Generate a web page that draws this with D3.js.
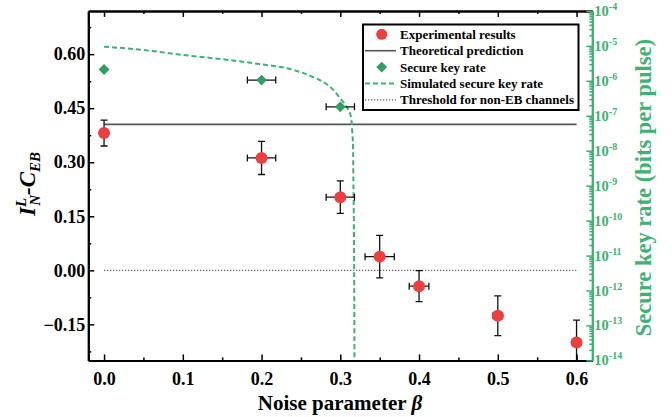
<!DOCTYPE html>
<html>
<head>
<meta charset="utf-8">
<script src="https://cdn.jsdelivr.net/npm/d3@7"></script>
<style>
  body { margin: 0; background: #fff; }
  svg text { font-family: "Liberation Serif", "Times New Roman", serif; font-weight: bold; }
</style>
</head>
<body>
<svg id="chart" width="672" height="417"></svg>
<script>
// experimental results (red circles)
const expBeta = [0, 0.2, 0.3, 0.35, 0.4, 0.5, 0.6];
const expValue = [0.381, 0.312, 0.203, 0.038, -0.044, -0.126, -0.200];
const expYErr = [0.036, 0.046, 0.045, 0.059, 0.043, 0.055, 0.062];
const expXErr = [0, 0.018, 0.018, 0.0186, 0.0125, 0.006, 0.005];

// measured secure key rate (green diamonds)
const keyBeta = [0, 0.2, 0.3];
const keyRate = [2.1e-6, 1.05e-6, 1.8e-7];
const keyXErr = [0, 0.018, 0.018];

// simulated secure key rate (dashed green)
const simBeta = [0, 0.05, 0.1, 0.16, 0.208, 0.224, 0.265, 0.274, 0.291, 0.2997, 0.308, 0.3124, 0.3145, 0.3153, 0.3162, 0.3166, 0.3175, 0.318];
const simRate = [9.5e-6, 7.6e-6, 5.5e-6, 3.9e-6, 2.8e-6, 2.5e-6, 1.3e-6, 1.05e-6, 5.5e-7, 3.2e-7, 1.8e-7, 1.17e-7, 6.1e-8, 3.1e-8, 1.3e-8, 1.45e-9, 1.4e-11, 1e-14];

const theoryValue = 0.405;
const thresholdValue = 0;
const lineBeta = [0, 0.6];

const xTicks = [0, 0.1, 0.2, 0.3, 0.4, 0.5, 0.6];
const yTicks = [-0.15, 0, 0.15, 0.30, 0.45, 0.60];
const rightExp = [-14, -13, -12, -11, -10, -9, -8, -7, -6, -5, -4];

const legendItems = ["Experimental results", "Theoretical prediction", "Secure key rate",
                     "Simulated secure key rate", "Threshold for non-EB channels"];

const RED = "#ef3e3e";
const GREEN = "#3cb371";
const DGREEN = "#2f9e60";

const pLeft = 88.3, pRight = 592.3, pTop = 10.9, pBottom = 360.4;

const svg = d3.select("#chart");

const x = d3.scaleLinear().domain([-0.02, 0.62]).range([pLeft, pRight]);
const y = d3.scaleLinear().domain([-0.25, 0.72]).range([pBottom, pTop]);
const yR = d3.scaleLog().domain([1e-14, 1e-4]).range([pBottom, pTop]);

svg.append("clipPath").attr("id", "plotclip")
  .append("rect").attr("x", pLeft).attr("y", pTop).attr("width", pRight - pLeft).attr("height", pBottom - pTop);

const plot = svg.append("g").attr("clip-path", "url(#plotclip)");

// threshold and theory lines
plot.append("line")
  .attr("x1", x(lineBeta[0])).attr("x2", x(lineBeta[1]))
  .attr("y1", y(thresholdValue)).attr("y2", y(thresholdValue))
  .attr("stroke", "#333").attr("stroke-width", 1).attr("stroke-dasharray", "1.2,1.8");

plot.append("line")
  .attr("x1", x(lineBeta[0])).attr("x2", x(lineBeta[1]))
  .attr("y1", y(theoryValue)).attr("y2", y(theoryValue))
  .attr("stroke", "#555").attr("stroke-width", 1.6);

// simulated key rate
const simLine = d3.line()
  .x(d => x(d[0])).y(d => yR(d[1]))
  .curve(d3.curveMonotoneX);
plot.append("path")
  .datum(simBeta.map((b, i) => [b, simRate[i]]))
  .attr("d", simLine)
  .attr("fill", "none").attr("stroke", GREEN).attr("stroke-width", 2)
  .attr("stroke-dasharray", "5,3");

// error bars helper
function errBars(g, cx, cy, x0, x1, y0, y1) {
  const cap = 3.5;
  if (y0 !== y1) {
    g.append("line").attr("x1", cx).attr("x2", cx).attr("y1", y0).attr("y2", y1);
    g.append("line").attr("x1", cx - cap).attr("x2", cx + cap).attr("y1", y0).attr("y2", y0);
    g.append("line").attr("x1", cx - cap).attr("x2", cx + cap).attr("y1", y1).attr("y2", y1);
  }
  if (x0 !== x1) {
    g.append("line").attr("x1", x0).attr("x2", x1).attr("y1", cy).attr("y2", cy);
    g.append("line").attr("x1", x0).attr("x2", x0).attr("y1", cy - cap).attr("y2", cy + cap);
    g.append("line").attr("x1", x1).attr("x2", x1).attr("y1", cy - cap).attr("y2", cy + cap);
  }
}

const eb = plot.append("g").attr("stroke", "#111").attr("stroke-width", 1.3);
expBeta.forEach((b, i) => {
  errBars(eb, x(b), y(expValue[i]),
    x(b - expXErr[i]), x(b + expXErr[i]),
    y(expValue[i] + expYErr[i]), y(expValue[i] - expYErr[i]));
});
keyBeta.forEach((b, i) => {
  errBars(eb, x(b), yR(keyRate[i]), x(b - keyXErr[i]), x(b + keyXErr[i]), 0, 0);
});

const diamond = d3.symbol().type(d3.symbolDiamond2).size(75);

plot.selectAll("circle.exp")
  .data(expBeta.map((b, i) => [b, expValue[i]]))
  .enter().append("circle")
  .attr("cx", d => x(d[0])).attr("cy", d => y(d[1]))
  .attr("r", 6).attr("fill", RED);

plot.selectAll("path.key")
  .data(keyBeta.map((b, i) => [b, keyRate[i]]))
  .enter().append("path")
  .attr("d", diamond)
  .attr("transform", d => `translate(${x(d[0])},${yR(d[1])})`)
  .attr("fill", DGREEN);

// axes
const fmt = d3.format(".2f");
const minorX = d3.range(0, 13).map(i => i * 0.05).filter(v => Math.round(v * 100) % 10 !== 0);
const minorY = yTicks.map(v => v + 0.075).concat([-0.225]);

svg.append("g").attr("transform", `translate(0,${pBottom})`)
  .call(d3.axisBottom(x).tickValues(xTicks).tickFormat(d3.format(".1f")).tickSize(-6).tickSizeOuter(0).tickPadding(12));
svg.append("g").attr("transform", `translate(0,${pBottom})`)
  .call(d3.axisBottom(x).tickValues(minorX).tickFormat("").tickSize(-3).tickSizeOuter(0));
svg.append("g").attr("transform", `translate(0,${pTop})`)
  .call(d3.axisTop(x).tickValues(xTicks).tickFormat("").tickSize(-6).tickSizeOuter(0));
svg.append("g").attr("transform", `translate(0,${pTop})`)
  .call(d3.axisTop(x).tickValues(minorX).tickFormat("").tickSize(-3).tickSizeOuter(0));
svg.append("g").attr("transform", `translate(${pLeft},0)`)
  .call(d3.axisLeft(y).tickValues(yTicks).tickFormat(fmt).tickSize(-6).tickSizeOuter(0).tickPadding(3));
svg.append("g").attr("transform", `translate(${pLeft},0)`)
  .call(d3.axisLeft(y).tickValues(minorY).tickFormat("").tickSize(-3).tickSizeOuter(0));

svg.selectAll(".domain").attr("stroke", "#000").attr("stroke-width", 2);
svg.selectAll(".tick line").attr("stroke", "#000").attr("stroke-width", 1.5);
svg.selectAll(".tick text").attr("font-size", 18).attr("fill", "#000")
  .style("font-family", "'Liberation Serif', serif").style("font-weight", "bold");

// right log axis
const majorR = rightExp.map(e => Math.pow(10, e));
const minorR = [];
rightExp.slice(0, -1).forEach(e => { for (let k = 2; k <= 9; k++) minorR.push(k * Math.pow(10, e)); });
const gR = svg.append("g").attr("transform", `translate(${pRight},0)`);
gR.call(d3.axisRight(yR).tickValues(majorR).tickFormat("").tickSize(-6).tickSizeOuter(0));
gR.append("g").call(d3.axisRight(yR).tickValues(minorR).tickFormat("").tickSize(-3).tickSizeOuter(0));
gR.selectAll(".domain").attr("stroke", GREEN).attr("stroke-width", 2);
gR.selectAll(".tick line").attr("stroke", GREEN).attr("stroke-width", 1.5);

const rl = gR.selectAll("text.rl").data(rightExp).enter().append("text")
  .attr("x", 2).attr("y", d => yR(Math.pow(10, d)) + 5)
  .attr("fill", GREEN).attr("font-size", 14.5);
rl.append("tspan").text("10");
rl.append("tspan").attr("dy", -6).attr("font-size", 10).text(d => "-" + Math.abs(d));

// axis titles
const xt = svg.append("text").attr("x", 340).attr("y", 410)
  .attr("text-anchor", "middle").attr("font-size", 21).attr("fill", "#000");
xt.append("tspan").text("Noise parameter ");
xt.append("tspan").attr("font-style", "italic").text("\u03b2");

svg.append("text")
  .attr("transform", `translate(651,${(pTop + pBottom) / 2 + 2}) rotate(-90)`)
  .attr("text-anchor", "middle").attr("font-size", 22.5).attr("fill", GREEN)
  .text("Secure key rate (bits per pulse)");

const yt = svg.append("text")
  .attr("transform", "translate(35,184) rotate(-90)")
  .attr("text-anchor", "middle").attr("font-size", 23).attr("font-style", "italic").attr("fill", "#000");
yt.append("tspan").text("I");
yt.append("tspan").attr("font-size", 15).attr("dy", -9).text("L");
yt.append("tspan").attr("font-size", 15).attr("dx", -8).attr("dy", 14).text("N");
yt.append("tspan").attr("dy", -5).text("-C");
yt.append("tspan").attr("font-size", 15).attr("dy", 5).text("EB");

// legend
const lg = svg.append("g");
lg.append("rect").attr("x", 363).attr("y", 24.5).attr("width", 215.5).attr("height", 85.5)
  .attr("fill", "#fff").attr("stroke", "#000").attr("stroke-width", 2);
const rowY = i => 34.3 + i * 16.4;
lg.append("circle").attr("cx", 381.7).attr("cy", rowY(0)).attr("r", 5.5).attr("fill", RED);
lg.append("line").attr("x1", 365).attr("x2", 396).attr("y1", rowY(1)).attr("y2", rowY(1))
  .attr("stroke", "#555").attr("stroke-width", 1.6);
lg.append("path").attr("d", diamond).attr("transform", `translate(381.7,${rowY(2)})`).attr("fill", DGREEN);
lg.append("line").attr("x1", 365).attr("x2", 396).attr("y1", rowY(3)).attr("y2", rowY(3))
  .attr("stroke", GREEN).attr("stroke-width", 2).attr("stroke-dasharray", "5,3");
lg.append("line").attr("x1", 365).attr("x2", 396).attr("y1", rowY(4)).attr("y2", rowY(4))
  .attr("stroke", "#333").attr("stroke-width", 1).attr("stroke-dasharray", "1.2,1.8");
lg.selectAll("text.lt").data(legendItems).enter().append("text")
  .attr("x", 400).attr("y", (d, i) => rowY(i) + 4.5)
  .attr("font-size", 13).attr("fill", "#000").text(d => d);
</script>
</body>
</html>
